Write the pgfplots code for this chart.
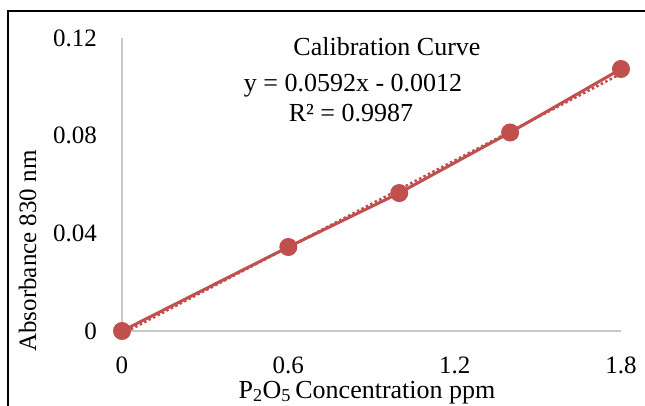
\documentclass[border=0pt]{standalone}
\usepackage{fontspec}
\setmainfont{Liberation Serif}
\usepackage{pgfplots}
\pgfplotsset{compat=1.18}
\definecolor{serred}{RGB}{192,80,77}
\definecolor{axgray}{RGB}{200,200,200}
\begin{document}
\fontsize{26}{30}\selectfont
\begin{tikzpicture}
  \useasboundingbox (0pt,0pt) rectangle (645pt,405pt);
  % chart frame, cut by the page at right and bottom
  \draw[line width=1.5pt] (8pt,-30pt) rectangle (700pt,394pt);
  \begin{axis}[
    at={(122pt,74pt)}, anchor=south west,
    scale only axis, width=499pt, height=293pt,
    xmin=0, xmax=1.8, ymin=0, ymax=0.12,
    axis x line=bottom, axis y line=left,
    axis line style={draw=axgray, line width=1.5pt, -},
    major tick length=0pt,
    xtick={0,0.6,1.2,1.8}, xticklabels={0,0.6,1.2,1.8},
    ytick={0,0.04,0.08,0.12}, yticklabels={0,0.04,0.08,0.12},
    every tick label/.append style={font=\fontsize{25}{29}\selectfont, inner sep=0pt},
    xticklabel style={anchor=base, yshift=-42pt},
    yticklabel style={anchor=east, xshift=-25pt},
    clip=false,
  ]
    \addplot[serred, line width=3pt, mark=*, mark size=7.5pt]
      coordinates {(0,0) (0.6,0.0344) (1.0,0.0565) (1.4,0.0813) (1.8,0.1073)};
    % linear trendline y = 0.0592x - 0.0012
    \addplot[serred, line width=2.5pt, dash pattern=on 2.5pt off 2.5pt]
      coordinates {(0,-0.0012) (1.8,0.10536)};
  \end{axis}
  \node[anchor=base, inner sep=0] at (387pt,349pt) {Calibration Curve};
  \node[anchor=base, inner sep=0] at (353pt,313pt) {y = 0.0592x - 0.0012};
  \node[anchor=base, inner sep=0] at (351pt,283pt) {R² = 0.9987};
  \node[anchor=base, inner sep=0] at (367pt,7pt) {P\textsubscript{2}O\textsubscript{5}\,Concentration ppm};
  \node[anchor=base, inner sep=0, rotate=90, font=\fontsize{25}{29}\selectfont] at (36pt,154pt) {Absorbance 830 nm};
\end{tikzpicture}
\end{document}
